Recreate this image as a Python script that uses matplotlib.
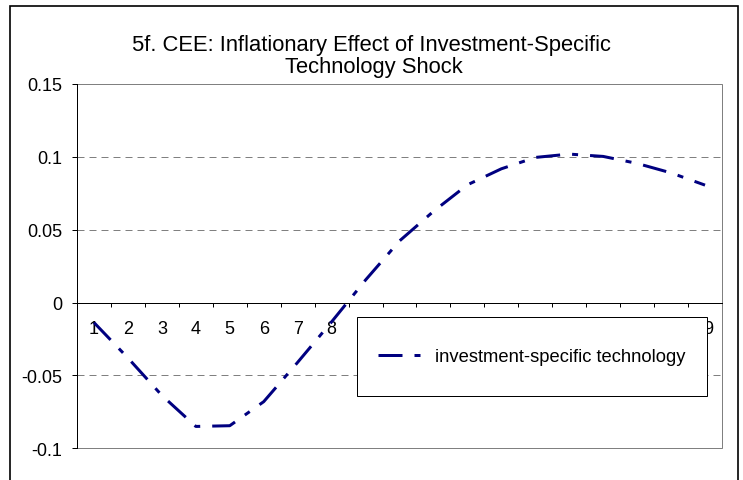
import matplotlib
matplotlib.use("Agg")
import matplotlib.pyplot as plt
from matplotlib.patches import Rectangle
import numpy as np

plt.rcParams['font.family'] = ['Liberation Sans', 'DejaVu Sans']
plt.rcParams['lines.scale_dashes'] = False
plt.rcParams['axes.unicode_minus'] = False

# ---- data ----
periods = list(range(1, 20))
period_labels = [str(p) for p in periods]
inflation = [-0.0137, -0.038, -0.0637, -0.085, -0.0845, -0.068, -0.041, -0.0132,
             0.0155, 0.0423, 0.0626, 0.0808, 0.0918, 0.0996, 0.1019, 0.1003,
             0.0955, 0.089, 0.0806]
y_ticks = [-0.1, -0.05, 0, 0.05, 0.1, 0.15]
y_tick_labels = ["-0.1", "-0.05", "0", "0.05", "0.1", "0.15"]
series_name = "investment-specific technology"
title_lines = ["5f. CEE: Inflationary Effect of Investment-Specific", "Technology Shock"]

W, H = 743, 481
fig = plt.figure(figsize=(W / 100, H / 100), dpi=100)
PX = 0.72  # points per pixel
TICK_FS = 13
LEG_FS = 13.2
TITLE_FS = 15.8

# outer chart frame
fig.patches.append(Rectangle((10 / W, -0.02), (738 - 10) / W, 1 - 6.7 / H + 0.02,
                             transform=fig.transFigure, fill=False,
                             edgecolor='black', linewidth=1.2, zorder=0))

ax_l, ax_r, ax_t, ax_b = 77, 722, 85, 449.3
ax = fig.add_axes([ax_l / W, 1 - ax_b / H, (ax_r - ax_l) / W, (ax_b - ax_t) / H])

ax.set_xlim(0.5, len(periods) + 0.5)
ax.set_ylim(-0.1, 0.15)

# gridlines
ax.set_yticks(y_ticks, y_tick_labels)
ax.grid(axis='y', color='#808080', linewidth=1 * PX, dashes=(7 * PX, 5 * PX), zorder=0.5)
ax.grid(axis='x', visible=False)

# series line
ax.plot(periods, inflation, color='#000080', linewidth=3 * PX,
        dashes=(24 * PX, 12 * PX, 6 * PX, 12 * PX), label=series_name, zorder=3)

# spines / borders
for s in ['top', 'right']:
    ax.spines[s].set_visible(False)
ax.spines['left'].set_color('black')
ax.spines['left'].set_linewidth(1 * PX)
ax.spines['bottom'].set_position(('data', 0))
ax.spines['bottom'].set_color('black')
ax.spines['bottom'].set_linewidth(1 * PX)
ax.add_patch(Rectangle((0, 0), 1, 1, transform=ax.transAxes, fill=False,
                       edgecolor='#808080', linewidth=1 * PX, clip_on=False, zorder=2.4))

# x ticks: marks at category boundaries, labels at centers
ax.set_xticks(np.arange(0.5, len(periods) + 1, 1.0))
ax.set_xticklabels([])
ax.set_xticks(periods, period_labels, minor=True)
ax.tick_params(axis='x', which='major', direction='out', length=4 * PX,
               width=1 * PX, color='black')
ax.tick_params(axis='x', which='minor', length=0, pad=12.5, labelsize=TICK_FS)
ax.tick_params(axis='y', direction='out', length=5 * PX, width=1 * PX,
               color='black', pad=7, labelsize=TICK_FS)

# legend box
lx0, lx1, ly0, ly1 = 357, 707, 318, 397
ax.add_patch(Rectangle(((lx0 - ax_l) / (ax_r - ax_l), (ax_b - ly1) / (ax_b - ax_t)),
                       (lx1 - lx0) / (ax_r - ax_l), (ly1 - ly0) / (ax_b - ax_t),
                       transform=ax.transAxes, facecolor='white', edgecolor='black',
                       linewidth=1 * PX, clip_on=False, zorder=4))
fs_px = LEG_FS / PX
ax.legend(loc='center left',
          bbox_to_anchor=((377.7 - ax_l) / (ax_r - ax_l), (ax_b - 358) / (ax_b - ax_t)),
          frameon=False, fontsize=LEG_FS, borderpad=0, borderaxespad=0,
          handlelength=47.3 / fs_px, handletextpad=10 / fs_px).set_zorder(5)

# title
fig.text(372 / W, 1 - 50.5 / H, title_lines[0], ha='center', va='baseline', fontsize=TITLE_FS)
fig.text(374 / W, 1 - 73 / H, title_lines[1], ha='center', va='baseline', fontsize=TITLE_FS)

fig.savefig("out.png", dpi=100)
